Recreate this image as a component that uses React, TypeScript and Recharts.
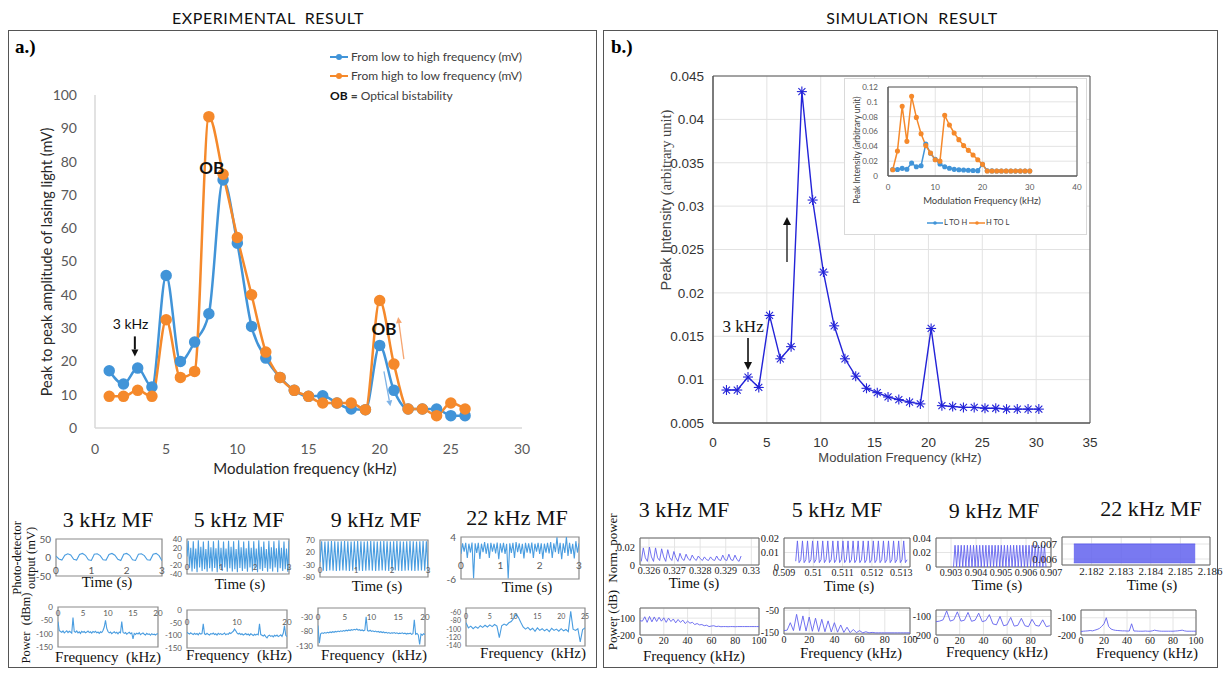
import React from 'react';
import {
  LineChart,
  Line,
  XAxis,
  YAxis,
  CartesianGrid,
  ReferenceDot,
  ReferenceArea,
  ComposedChart,
  Area,
} from 'recharts';

// ---- main experimental chart (a.) ----
const expFreq = [1, 2, 3, 4, 5, 6, 7, 8, 9, 10, 11, 12, 13, 14, 15, 16, 17, 18, 19, 20, 21, 22, 23, 24, 25, 26];
const expLowToHigh = [17.2, 13.2, 18, 12.3, 45.8, 20, 25.8, 34.3, 74.5, 55.5, 30.5, 21, 15.2, 11.3, 9.5, 9.7, 7.5, 5.7, 5.5, 24.8, 11.3, 5.7, 5.7, 5.7, 3.7, 3.7];
const expHighToLow = [9.5, 9.5, 11.3, 9.5, 32.5, 15.2, 17, 93.5, 76.2, 57.2, 40, 22.8, 15.2, 11.3, 9.5, 7.5, 7.5, 7.5, 5.5, 38.3, 19.2, 5.7, 5.7, 3.7, 7.5, 5.7];
const expXTicks = [0, 5, 10, 15, 20, 25, 30];
const expYTicks = [0, 10, 20, 30, 40, 50, 60, 70, 80, 90, 100];

// ---- main simulation chart (b.) ----
const simFreq = [1.25, 2.25, 3.25, 4.25, 5.25, 6.25, 7.25, 8.25, 9.25, 10.25, 11.25, 12.25, 13.25, 14.25, 15.25, 16.25, 17.25, 18.25, 19.25, 20.25, 21.25, 22.25, 23.25, 24.25, 25.25, 26.25, 27.25, 28.25, 29.25, 30.25];
const simIntensity = [0.0088, 0.0088, 0.0103, 0.0091, 0.0174, 0.0124, 0.0138, 0.0432, 0.0307, 0.0224, 0.0162, 0.0124, 0.0104, 0.009, 0.0085, 0.008, 0.0077, 0.0074, 0.0072, 0.0159, 0.007, 0.0069, 0.0068, 0.0068, 0.0067, 0.0067, 0.0066, 0.0066, 0.0066, 0.0066];
const simXTicks = [0, 5, 10, 15, 20, 25, 30, 35];
const simYTicks = [0.005, 0.01, 0.015, 0.02, 0.025, 0.03, 0.035, 0.04, 0.045];

// ---- inset ----
const insetFreq = [1, 2, 3, 4, 5, 6, 7, 8, 9, 10, 11, 12, 13, 14, 15, 16, 17, 18, 19, 20, 21, 22, 23, 24, 25, 26, 27, 28, 29, 30];
const insetLtoH = [0.0088, 0.0088, 0.0103, 0.0091, 0.0174, 0.0124, 0.0138, 0.0432, 0.0307, 0.0224, 0.0162, 0.0124, 0.0104, 0.009, 0.0085, 0.008, 0.0077, 0.0074, 0.0072, 0.0159, 0.007, 0.0069, 0.0068, 0.0068, 0.0067, 0.0067, 0.0066, 0.0066, 0.0066, 0.0066];
const insetHtoL = [0.0085, 0.0337, 0.094, 0.0467, 0.1074, 0.079, 0.057, 0.041, 0.031, 0.022, 0.02, 0.0818, 0.0688, 0.058, 0.049, 0.041, 0.0346, 0.0283, 0.022, 0.0157, 0.0068, 0.0068, 0.0068, 0.0068, 0.0068, 0.0068, 0.0068, 0.0068, 0.0068, 0.0068];
const insetXTicks = [0, 10, 20, 30, 40];
const insetYTicks = [0, 0.02, 0.04, 0.06, 0.08, 0.1, 0.12];

// ---- experimental small panels ----
const exp3kTime = [4, -4, -7, 6, 10, 7, -5, -7, 8, 11, 6, -6, -8, 9, 10, 5, -6, -7, 8, 11, 6, -5, -8, 9, 11, 6, -6, -8, 9, 10, 5, -6, -7, 9, 11, 5, -9];
const exp5kTime = [0, 36, -26, 20, -34, 35, -28, 18, -36, 37, -25, 22, -33, 34, -29, 17, -35, 36, -27, 21, -34, 35, -26, 19, -36, 37, -28, 20, -33, 34, -25, 18, -35, 36, -27, 22, -34, 35, -29, 17, -36, 37, -26, 21, -33, 34, -28, 19, -35, 36, -25, 20, -34, 35, -27, 18, -36, 37, -29, 22, -33, 34, -26, 17, -35, 36, -28, 21, -34, 35, -25, 19, -36, 37, -27, 20, -33, 34, -29, 18, -35, 36];
const exp9kTime = [-20, 65, -55, 64, -56, 65, -54, 66, -55, 65, -56, 64, -55, 65, -54, 66, -55, 65, -56, 64, -55, 65, -54, 66, -55, 65, -56, 64, -55, 65, -54, 66, -55, 65, -56, 64, -55, 65, -54, 66, -55, 65, -56, 64, -55, 65, -54, 66, -55, 65, -56, 64, -55, 65, -54, 66, -55, 65, -56, 64, -55, 65, -54, 66, -55, 65, -56];
const exp22kTime = [0, 2.5, 0.5, 2.6, -1, 2.4, 0.3, 2.7, -5.8, 2.5, 0.2, 2.6, -1.2, 2.4, 0.4, 2.8, 0, 2.5, -1, 2.6, 0.5, 2.4, 0.1, 2.7, -1.3, 2.5, 0.3, 2.6, 0, 2.4, -5.9, 2.5, 0.2, 2.6, -1, 2.8, 0.4, 2.5, 0, 2.4, -1.1, 2.6, 0.3, 2.5, 0.1, 2.7, -1, 2.4, 0.5, 2.6, 0, 2.5, -1.2, 2.4, 0.3, 2.6, 0.1, 2.8, -1, 2.5, 0.4, 3.9, 0, 2.6, -1.3, 2.5, 0.2, 4, -0.5, 2.6, 0, 2.4, -1.1, 3, 0.3, 2.5];
const exp3kSpec = [-55, -88, -92, -95, -90, -97, -93, -89, -96, -91, -94, -98, -40, -92, -95, -90, -97, -93, -99, -91, -95, -92, -97, -94, -90, -96, -93, -98, -92, -95, -91, -97, -94, -99, -93, -96, -88, -75, -50, -80, -92, -97, -94, -100, -96, -93, -98, -95, -101, -94, -97, -55, -95, -99, -96, -102, -98, -95, -100, -97, -120, -99, -103, -98, -101, -96, -104, -100, -97, -102, -105, -99, -103, -101, -106, -100, -104, -102, -105, -101, -100];
const exp5kSpec = [-88, -92, -95, -90, -94, -97, -92, -96, -93, -98, -91, -95, -93, -55, -94, -97, -92, -96, -99, -93, -95, -91, -97, -94, -99, -92, -96, -93, -97, -95, -91, -98, -94, -96, -90, -93, -88, -84, -75, -82, -90, -95, -92, -97, -94, -99, -96, -93, -98, -95, -100, -94, -97, -101, -96, -99, -95, -98, -55, -97, -100, -103, -98, -105, -110, -102, -99, -104, -101, -106, -100, -103, -99, -105, -102, -98, -104, -92, -62, -100, -105];
const exp9kSpec = [-60, -120, -88, -85, -87, -84, -86, -83, -85, -82, -84, -81, -83, -80, -82, -79, -81, -78, -80, -77, -79, -76, -78, -75, -77, -74, -76, -73, -75, -72, -76, -74, -77, -75, -78, -76, -30, -77, -79, -76, -80, -78, -81, -79, -82, -80, -83, -81, -84, -82, -85, -83, -86, -84, -87, -85, -86, -84, -87, -85, -88, -86, -87, -85, -88, -86, -89, -87, -88, -86, -90, -88, -40, -90, -87, -92, -125, -89, -93, -88, -91];
const exp22kSpec = [-85, -97, -93, -99, -94, -98, -92, -96, -91, -95, -90, -94, -89, -93, -120, -92, -88, -91, -85, -82, -75, -65, -72, -84, -95, -100, -96, -102, -98, -105, -97, -103, -99, -104, -100, -106, -98, -103, -100, -105, -99, -104, -101, -106, -58, -100, -103, -99, -130, -101, -97];

// ---- simulation small panels ----
const sim3kTime = [0.004, 0.019, 0.008, 0.004, 0.02, 0.009, 0.004, 0.019, 0.008, 0.005, 0.018, 0.009, 0.004, 0.017, 0.008, 0.005, 0.015, 0.008, 0.004, 0.013, 0.007, 0.005, 0.012, 0.007, 0.005, 0.011, 0.007, 0.005, 0.01, 0.007, 0.005, 0.009, 0.006, 0.005, 0.009, 0.006, 0.005, 0.01, 0.006, 0.005, 0.011, 0.006, 0.005, 0.012, 0.006, 0.005, 0.011, 0.006, 0.004, 0.01];
const sim5kTime = [0.004, 0.018, 0.003, 0.005, 0.018, 0.003, 0.005, 0.018, 0.003, 0.005, 0.018, 0.003, 0.005, 0.018, 0.003, 0.005, 0.018, 0.003, 0.005, 0.018, 0.003, 0.005, 0.018, 0.003, 0.005, 0.018, 0.003, 0.005, 0.018, 0.003, 0.005, 0.018, 0.003, 0.005, 0.018, 0.003, 0.005, 0.018, 0.003, 0.005, 0.018, 0.003, 0.005, 0.018, 0.003, 0.005, 0.018, 0.003, 0.005, 0.018, 0.003, 0.005, 0.018, 0.003, 0.005, 0.018, 0.003, 0.005, 0.018, 0.003, 0.005, 0.018, 0.003, 0.005, 0.018, 0.003, 0.005];
const sim9kTime = [0, 0.03, 0, 0.03, 0, 0.03, 0, 0.03, 0, 0.03, 0, 0.03, 0, 0.03, 0, 0.03, 0, 0.03, 0, 0.03, 0, 0.03, 0, 0.03, 0, 0.03, 0, 0.03, 0, 0.03, 0, 0.03, 0, 0.03, 0, 0.03, 0, 0.03, 0, 0.03, 0, 0.03, 0, 0.03, 0, 0.03, 0, 0.03, 0, 0.03, 0, 0.03, 0, 0.03, 0, 0.03, 0, 0.03, 0, 0.03, 0];
const sim22kBandT = [2.1814, 2.1855];
const sim22kBandLow = [0.00575, 0.00575];
const sim22kBandHigh = [0.007, 0.007];
const sim3kSpec = [-115, -118, -92, -125, -90, -122, -93, -120, -95, -118, -98, -125, -100, -120, -105, -128, -108, -125, -112, -132, -118, -130, -125, -138, -132, -140, -138, -145, -142, -150, -147, -145, -150, -148, -151, -150, -150, -151, -150, -150, -151, -150, -150, -150, -150, -150, -150, -150, -150, -150, -150];
const sim5kSpec = [-140, -138, -105, -140, -68, -140, -75, -142, -80, -143, -85, -144, -90, -145, -97, -146, -105, -147, -115, -148, -125, -149, -135, -149, -140, -150, -145, -150, -148, -150, -150, -150, -150, -150, -150, -150, -150, -150, -150, -150, -150];
const sim9kSpec = [-128, -125, -118, -70, -125, -118, -75, -125, -120, -78, -126, -120, -82, -128, -122, -90, -140, -145, -100, -150, -145, -105, -152, -148, -110, -150, -155, -115, -148, -152, -118, -155, -150];
const sim22kSpec = [-180, -178, -177, -176, -174, -176, -172, -168, -162, -150, -135, -100, -150, -165, -170, -173, -174, -175, -176, -176, -177, -177, -135, -177, -177, -178, -178, -178, -177, -178, -178, -176, -172, -175, -177, -178, -178, -178, -178, -178, -178, -177, -176, -174, -172, -176, -178, -178, -178, -178, -178];

const BLUE = '#4194d8';
const ORANGE = '#f5892b';
const SIMBLUE = '#2323d8';
const EXPTRACE = '#4a9de0';
const SIMTRACE = '#6262ee';
const SANS = 'Lato, "Noto Sans", sans-serif';
const ARIAL = '"Liberation Sans", Arial, sans-serif';
const SERIF = '"Liberation Serif", "Times New Roman", serif';

// sample times spread evenly over the recorded window
const sampled = (vals: number[], x0: number, x1: number) =>
  vals.map((y, i) => ({ x: x0 + (i * (x1 - x0)) / (vals.length - 1), y }));

const Txt = ({ x, y, size, font, children, weight, color, rot }: any) => (
  <div
    style={{
      position: 'absolute',
      left: x,
      top: y,
      transform: `translate(-50%, -50%) rotate(${rot || 0}deg)`,
      fontSize: size,
      fontFamily: font,
      fontWeight: weight || 'normal',
      color: color || '#111',
      whiteSpace: 'nowrap',
      lineHeight: 1.1,
      textAlign: 'center',
    }}
  >
    {children}
  </div>
);

// arrow whose tip sits on the reference point; tail offset in pixels
const arrowShape = (dx: number, dy: number, color: string, w: number, head: number) => (p: any) => {
  const { cx, cy } = p;
  if (cx == null || cy == null) return <g />;
  const len = Math.hypot(dx, dy);
  const ux = -dx / len;
  const uy = -dy / len;
  const bx = cx - ux * head;
  const by = cy - uy * head;
  const px = -uy * head * 0.5;
  const py = ux * head * 0.5;
  return (
    <g>
      <line x1={cx + dx} y1={cy + dy} x2={bx} y2={by} stroke={color} strokeWidth={w} />
      <polygon points={`${cx},${cy} ${bx + px},${by + py} ${bx - px},${by - py}`} fill={color} />
    </g>
  );
};

const textShape = (label: string, size: number, font: string, weight: string, fill = '#111') => (p: any) => (
  <text x={p.cx} y={p.cy} textAnchor="middle" dominantBaseline="central" fontSize={size} fontFamily={font} fontWeight={weight} fill={fill}>
    {label}
  </text>
);

const asterisk = (p: any) => {
  const { cx, cy } = p;
  if (cx == null || cy == null) return <g key={p.key} />;
  const r = 5;
  const d = r * 0.7;
  return (
    <g key={p.key} stroke={SIMBLUE} strokeWidth={1.1}>
      <line x1={cx - r} y1={cy} x2={cx + r} y2={cy} />
      <line x1={cx} y1={cy - r} x2={cx} y2={cy + r} />
      <line x1={cx - d} y1={cy - d} x2={cx + d} y2={cy + d} />
      <line x1={cx - d} y1={cy + d} x2={cx + d} y2={cy - d} />
    </g>
  );
};

function ExpMain() {
  const data = expFreq.map((f, i) => ({ f, lh: expLowToHigh[i], hl: expHighToLow[i] }));
  const tick = { fontSize: 14, fill: '#595959', fontFamily: SANS };
  return (
    <div style={{ position: 'absolute', left: 20, top: 80 }}>
      <LineChart width={520} height={410} data={data} margin={{ top: 15, right: 18, left: 0, bottom: 22 }}>
        <XAxis dataKey="f" type="number" domain={[0, 30]} ticks={expXTicks} interval={0} tick={tick} tickLine={false} axisLine={{ stroke: '#d9d9d9', strokeWidth: 1.5 }} tickMargin={10} height={40} />
        <YAxis type="number" domain={[0, 100]} ticks={expYTicks} interval={0} tick={tick} tickLine={false} axisLine={{ stroke: '#d9d9d9', strokeWidth: 1.5 }} width={75} tickMargin={12} />
        <Line type="monotone" dataKey="lh" stroke={BLUE} strokeWidth={2.5} dot={{ r: 4.5, fill: BLUE, stroke: BLUE }} isAnimationActive={false} />
        <Line type="monotone" dataKey="hl" stroke={ORANGE} strokeWidth={2.5} dot={{ r: 4.5, fill: ORANGE, stroke: ORANGE }} isAnimationActive={false} />
        <ReferenceDot x={2.5} y={31.5} r={0} shape={textShape('3 kHz', 14, SANS, 'normal')} />
        <ReferenceDot x={2.8} y={21.5} r={0} shape={arrowShape(0, -20, '#111', 2, 7)} />
        <ReferenceDot x={8.2} y={78.3} r={0} shape={textShape('OB', 17, SANS, 'bold')} />
        <ReferenceDot x={20.3} y={30} r={0} shape={textShape('OB', 17, SANS, 'bold')} />
        <ReferenceDot x={21.3} y={33.3} r={0} shape={arrowShape(5.7, 42, '#f6a570', 1.3, 6)} />
        <ReferenceDot x={20.75} y={6.5} r={0} shape={arrowShape(-6.4, -35, '#7fb3e6', 1.3, 6)} />
      </LineChart>
    </div>
  );
}

function SimMain() {
  const data = simFreq.map((f, i) => ({ f, v: simIntensity[i] }));
  const tick = { fontSize: 13.5, fill: '#333', fontFamily: ARIAL };
  return (
    <div style={{ position: 'absolute', left: 650, top: 60 }}>
      <LineChart width={450} height={420} data={data} margin={{ top: 16, right: 10, left: 0, bottom: 27 }}>
        <CartesianGrid stroke="#e2e2e2" />
        <XAxis dataKey="f" type="number" domain={[0, 35]} ticks={simXTicks} interval={0} tick={tick} tickLine={false} axisLine={{ stroke: '#555' }} tickMargin={8} height={30} />
        <YAxis type="number" domain={[0.005, 0.045]} ticks={simYTicks} interval={0} tick={tick} tickLine={false} axisLine={{ stroke: '#555' }} width={63} tickMargin={3} />
        <ReferenceArea x1={0} x2={35} y1={0.005} y2={0.045} fill="none" stroke="#555" strokeWidth={1} />
        <Line type="linear" dataKey="v" stroke={SIMBLUE} strokeWidth={1.4} dot={asterisk} isAnimationActive={false} />
        <ReferenceDot x={2.8} y={0.0161} r={0} shape={textShape('3 kHz', 17, SERIF, 'normal')} />
        <ReferenceDot x={3.25} y={0.0111} r={0} shape={arrowShape(0, -32, '#111', 1.6, 8)} />
        <ReferenceDot x={6.87} y={0.02875} r={0} shape={arrowShape(0, 45, '#111', 1.3, 8)} />
      </LineChart>
    </div>
  );
}

function Inset() {
  const data = insetFreq.map((f, i) => ({ f, a: insetLtoH[i], b: insetHtoL[i] }));
  const tick = { fontSize: 8, fill: '#595959', fontFamily: SANS };
  return (
    <>
      <div style={{ position: 'absolute', left: 844, top: 78, width: 243, height: 157, background: '#fff', border: '1px solid #d9d9d9', boxSizing: 'border-box' }} />
      <div style={{ position: 'absolute', left: 846, top: 80 }}>
        <LineChart width={240} height={130} data={data} margin={{ top: 7, right: 9, left: 0, bottom: 20 }}>
          <CartesianGrid stroke="#e3e3e3" />
          <XAxis dataKey="f" type="number" domain={[0, 40]} ticks={insetXTicks} interval={0} tick={tick} tickLine={false} axisLine={{ stroke: '#595959' }} tickMargin={2} height={14} />
          <YAxis type="number" domain={[0, 0.12]} ticks={insetYTicks} interval={0} tick={tick} tickLine={false} axisLine={{ stroke: '#595959' }} width={42} tickMargin={4} />
          <ReferenceArea x1={0} x2={40} y1={0} y2={0.12} fill="none" stroke="#595959" />
          <Line type="linear" dataKey="a" stroke={BLUE} strokeWidth={1.5} dot={{ r: 1.8, fill: BLUE, stroke: BLUE }} isAnimationActive={false} />
          <Line type="linear" dataKey="b" stroke={ORANGE} strokeWidth={1.5} dot={{ r: 1.8, fill: ORANGE, stroke: ORANGE }} isAnimationActive={false} />
        </LineChart>
      </div>
      <Txt x={858} y={150} size={8.5} font={SANS} color="#404040" rot={-90}>Peak Intensity (arbitrary unit)</Txt>
      <Txt x={982} y={201} size={9.5} font={SANS} color="#404040">Modulation Frequency (kHz)</Txt>
      <svg style={{ position: 'absolute', left: 925, top: 218 }} width={70} height={10}>
        <line x1={2} y1={5} x2={18} y2={5} stroke={BLUE} strokeWidth={1.5} />
        <circle cx={10} cy={5} r={1.8} fill={BLUE} />
        <line x1={44} y1={5} x2={60} y2={5} stroke={ORANGE} strokeWidth={1.5} />
        <circle cx={52} cy={5} r={1.8} fill={ORANGE} />
      </svg>
      <div style={{ position: 'absolute', left: 944, top: 218, fontSize: 7.5, fontFamily: SANS, color: '#404040', lineHeight: '10px' }}>L TO H</div>
      <div style={{ position: 'absolute', left: 986, top: 218, fontSize: 7.5, fontFamily: SANS, color: '#404040', lineHeight: '10px' }}>H TO L</div>
    </>
  );
}

type MiniProps = {
  l: number;
  t: number;
  w: number;
  h: number;
  data?: { x: number; y: number }[];
  band?: { x: number; r: number[] }[];
  xd: number[];
  yd: number[];
  xt: number[];
  yt: number[];
  kind: 'excel' | 'matlab';
  labelY?: number;
  yw: number;
  fs: number;
  xfs?: number;
};

function Mini({ l, t, w, h, data, band, xd, yd, xt, yt, kind, labelY, yw, fs, xfs }: MiniProps) {
  const excel = kind === 'excel';
  const color = excel ? EXPTRACE : SIMTRACE;
  const xh = excel ? 0 : 13;
  const mr = excel ? 6 : 16;
  const mt = 7;
  const mb = excel ? 7 : 2;
  const font = excel ? SANS : SERIF;
  const fill = excel ? '#595959' : '#222';
  const yTick = { fontSize: fs, fill, fontFamily: font };
  const xTick = { fontSize: xfs || fs, fill, fontFamily: font };
  return (
    <div style={{ position: 'absolute', left: l - yw, top: t - mt }}>
      <ComposedChart width={w + yw + mr} height={h + mt + mb + xh} data={data || band} margin={{ top: mt, right: mr, left: 0, bottom: mb }}>
        {!excel && <CartesianGrid stroke="#e4e4e4" />}
        <XAxis
          dataKey="x"
          type="number"
          domain={xd}
          ticks={xt}
          interval={0}
          tick={xTick}
          tickLine={false}
          axisLine={false}
          hide={excel}
          height={xh}
          tickSize={1}
          tickMargin={1}
          allowDataOverflow
        />
        <YAxis type="number" domain={yd} ticks={yt} interval={0} tick={yTick} tickLine={false} axisLine={false} width={yw} tickSize={2} tickMargin={3} allowDataOverflow />
        {band ? (
          <Area dataKey="r" type="linear" stroke={color} fill={color} fillOpacity={0.85} strokeWidth={1} isAnimationActive={false} />
        ) : (
          <Line dataKey="y" type="linear" stroke={color} strokeWidth={excel ? 1.1 : 0.9} dot={false} isAnimationActive={false} />
        )}
        <ReferenceArea x1={xd[0]} x2={xd[1]} y1={yd[0]} y2={yd[1]} fill="none" stroke={excel ? '#8a8a8a' : '#666'} strokeWidth={excel ? 1.2 : 1} />
        {excel && labelY !== undefined &&
          xt.map((v) => (
            <ReferenceDot key={v} x={v} y={labelY} r={0} shape={textShape(String(v), xfs || fs, SANS, 'normal', '#595959')} />
          ))}
      </ComposedChart>
    </div>
  );
}

export default function App() {
  const band22 = sim22kBandT.map((x, i) => ({ x, r: [sim22kBandLow[i], sim22kBandHigh[i]] }));
  return (
    <div style={{ position: 'absolute', left: 0, top: 0, width: 1224, height: 675, background: '#fff', overflow: 'hidden' }}>
      <Txt x={268} y={18} size={16} font={SANS} color="#111"><span style={{ letterSpacing: 0.6 }}>EXPERIMENTAL&nbsp; RESULT</span></Txt>
      <Txt x={912} y={18} size={16} font={SANS} color="#111"><span style={{ letterSpacing: 0.6 }}>SIMULATION&nbsp; RESULT</span></Txt>
      <div style={{ position: 'absolute', left: 8, top: 30, width: 589, height: 638, border: '1.5px solid #555', boxSizing: 'border-box' }} />
      <div style={{ position: 'absolute', left: 603, top: 30, width: 615, height: 638, border: '1.5px solid #555', boxSizing: 'border-box' }} />
      <div style={{ position: 'absolute', left: 15, top: 36, fontSize: 19, fontWeight: 'bold', fontFamily: SERIF }}>a.)</div>
      <div style={{ position: 'absolute', left: 611, top: 36, fontSize: 19, fontWeight: 'bold', fontFamily: SERIF }}>b.)</div>

      <ExpMain />
      <Txt x={47} y={262} size={14.5} font={SANS} color="#262626" rot={-90}>Peak to peak amplitude of lasing light (mV)</Txt>
      <Txt x={305} y={468} size={15} font={SANS} color="#262626">Modulation frequency (kHz)</Txt>

      <svg style={{ position: 'absolute', left: 326, top: 50 }} width={26} height={34}>
        <line x1={4} y1={7} x2={22} y2={7} stroke={BLUE} strokeWidth={2} />
        <circle cx={13} cy={7} r={3} fill={BLUE} />
        <line x1={4} y1={26} x2={22} y2={26} stroke={ORANGE} strokeWidth={2} />
        <circle cx={13} cy={26} r={3} fill={ORANGE} />
      </svg>
      <div style={{ position: 'absolute', left: 351, top: 50, fontSize: 12, fontFamily: SANS, color: '#404040', lineHeight: '14px' }}>From low to high frequency (mV)</div>
      <div style={{ position: 'absolute', left: 351, top: 69, fontSize: 12, fontFamily: SANS, color: '#404040', lineHeight: '14px' }}>From high to low frequency (mV)</div>
      <div style={{ position: 'absolute', left: 330, top: 89, fontSize: 12, fontFamily: SANS, color: '#404040', lineHeight: '14px' }}><b style={{ color: '#111' }}>OB</b> <b>=</b> Optical bistability</div>

      <SimMain />
      <Inset />
      <Txt x={667} y={200} size={14.5} font={ARIAL} color="#444" rot={-90}>Peak Intensity <span style={{ fontFamily: SERIF }}>(arbitrary unit)</span></Txt>
      <Txt x={900} y={458} size={13} font={ARIAL} color="#444">Modulation Frequency (kHz)</Txt>

      {/* experimental small panels */}
      <Txt x={108} y={520} size={22} font={SERIF}>3 kHz MF</Txt>
      <Txt x={239} y={520} size={22} font={SERIF}>5 kHz MF</Txt>
      <Txt x={376} y={520} size={22} font={SERIF}>9 kHz MF</Txt>
      <Txt x={517} y={518} size={22} font={SERIF}>22 kHz MF</Txt>
      <Txt x={25} y={558} size={12.5} font={SERIF} rot={-90}>Photo-detector<br />output (mV)</Txt>
      <Txt x={27} y={628} size={12.5} font={SERIF} rot={-90}>Power&nbsp; (dBm)</Txt>

      <Mini l={56} t={539} w={106} h={37} data={sampled(exp3kTime, 0, 3)} xd={[0, 3]} yd={[-50, 50]} xt={[0, 1, 2, 3]} yt={[-50, 0, 50]} kind="excel" labelY={-34} yw={22} fs={10} />
      <Mini l={187} t={539} w={102} h={35} data={sampled(exp5kTime, 0, 3)} xd={[0, 3]} yd={[-40, 40]} xt={[0, 1, 2, 3]} yt={[-40, -20, 0, 20, 40]} kind="excel" labelY={-24} yw={22} fs={8} />
      <Mini l={320} t={540} w={108} h={37} data={sampled(exp9kTime, 0, 3)} xd={[0, 3]} yd={[-80, 70]} xt={[0, 1, 2, 3]} yt={[-80, -30, 20, 70]} kind="excel" labelY={-52} yw={22} fs={8} />
      <Mini l={461} t={537} w={118} h={42} data={sampled(exp22kTime, 0, 3)} xd={[0, 3]} yd={[-6, 4]} xt={[0, 1, 2, 3]} yt={[-6, 4]} kind="excel" labelY={-2.7} yw={18} fs={10} />
      <Txt x={107} y={582} size={15} font={SERIF}>Time (s)</Txt>
      <Txt x={240} y={584} size={15} font={SERIF}>Time (s)</Txt>
      <Txt x={377} y={586} size={15} font={SERIF}>Time (s)</Txt>
      <Txt x={527} y={587} size={15} font={SERIF}>Time (s)</Txt>

      <Mini l={58} t={607} w={100} h={40} data={sampled(exp3kSpec, 0, 20)} xd={[0, 20]} yd={[-150, 0]} xt={[0, 5, 10, 15, 20]} yt={[-150, -100, -50, 0]} kind="excel" labelY={-22} yw={22} fs={8} />
      <Mini l={187} t={610} w={100} h={38} data={sampled(exp5kSpec, 0, 20)} xd={[0, 20]} yd={[-150, 0]} xt={[0, 10, 20]} yt={[-150, -100, -50, 0]} kind="excel" labelY={-47} yw={22} fs={8} />
      <Mini l={318} t={608} w={107} h={38} data={sampled(exp9kSpec, 0, 20)} xd={[0, 20]} yd={[-130, 0]} xt={[0, 5, 10, 15, 20]} yt={[-130, -80, -30]} kind="excel" labelY={-31} yw={22} fs={8} />
      <Mini l={466} t={608} w={119} h={38} data={sampled(exp22kSpec, 0, 25)} xd={[0, 25]} yd={[-140, -50]} xt={[0, 5, 10, 15, 20, 25]} yt={[-140, -120, -100, -80, -60]} kind="excel" labelY={-69} yw={22} fs={7} />
      <Txt x={108} y={657} size={15} font={SERIF}>Frequency&nbsp; (kHz)</Txt>
      <Txt x={239} y={655} size={15} font={SERIF}>Frequency&nbsp; (kHz)</Txt>
      <Txt x={374} y={655} size={15} font={SERIF}>Frequency&nbsp; (kHz)</Txt>
      <Txt x={533} y={653} size={15} font={SERIF}>Frequency&nbsp; (kHz)</Txt>

      {/* simulation small panels */}
      <Txt x={684} y={510} size={22} font={SERIF}>3 kHz MF</Txt>
      <Txt x={837} y={510} size={22} font={SERIF}>5 kHz MF</Txt>
      <Txt x={994} y={511} size={22} font={SERIF}>9 kHz MF</Txt>
      <Txt x={1151} y={509} size={22} font={SERIF}>22 kHz MF</Txt>
      <Txt x={613} y={548} size={13} font={SERIF} rot={-90}>Norm. power</Txt>
      <Txt x={613} y={620} size={13} font={SERIF} rot={-90}>Power (dB)</Txt>

      <Mini l={640} t={538} w={119} h={27} data={sampled(sim3kTime, 0.3257, 0.3296)} xd={[0.32565, 0.3303]} yd={[0, 0.03]} xt={[0.326, 0.327, 0.328, 0.329, 0.33]} yt={[0, 0.02]} kind="matlab" yw={30} fs={10.5} xfs={10} />
      <Mini l={784} t={538} w={126} h={29} data={sampled(sim5kTime, 0.5094, 0.5132)} xd={[0.509, 0.5133]} yd={[0, 0.02]} xt={[0.509, 0.51, 0.511, 0.512, 0.513]} yt={[0, 0.01, 0.02]} kind="matlab" yw={30} fs={10.5} xfs={10} />
      <Mini l={936} t={538} w={115} h={29} data={sampled(sim9kTime, 0.9031, 0.9068)} xd={[0.9024, 0.907]} yd={[0, 0.04]} xt={[0.903, 0.904, 0.905, 0.906, 0.907]} yt={[0, 0.02, 0.04]} kind="matlab" yw={30} fs={10.5} xfs={10} />
      <Mini l={1062} t={537} w={148} h={28} band={band22} xd={[2.181, 2.186]} yd={[0.0056, 0.00747]} xt={[2.182, 2.183, 2.184, 2.185, 2.186]} yt={[0.006, 0.007]} kind="matlab" yw={40} fs={11} xfs={11} />
      <Txt x={694} y={583} size={15} font={SERIF}>Time (s)</Txt>
      <Txt x={849} y={586} size={15} font={SERIF}>Time (s)</Txt>
      <Txt x={997} y={585} size={15} font={SERIF}>Time (s)</Txt>
      <Txt x={1152} y={585} size={15} font={SERIF}>Time (s)</Txt>

      <Mini l={640} t={608} w={119} h={27} data={sampled(sim3kSpec, 0, 100)} xd={[0, 100]} yd={[-200, -40]} xt={[0, 20, 40, 60, 80, 100]} yt={[-200, -100]} kind="matlab" yw={28} fs={10} />
      <Mini l={784} t={608} w={126} h={26} data={sampled(sim5kSpec, 0, 100)} xd={[0, 100]} yd={[-155, -40]} xt={[0, 20, 40, 60, 80, 100]} yt={[-150, -50]} kind="matlab" yw={28} fs={10} />
      <Mini l={936} t={610} w={115} h={25} data={sampled(sim9kSpec, 0, 96)} xd={[0, 97]} yd={[-200, -65]} xt={[0, 20, 40, 60, 80]} yt={[-200, -100]} kind="matlab" yw={28} fs={10} />
      <Mini l={1081} t={610} w={115} h={25} data={sampled(sim22kSpec, 0, 100)} xd={[0, 100]} yd={[-200, -55]} xt={[0, 20, 40, 60, 80, 100]} yt={[-200, -100]} kind="matlab" yw={28} fs={10} />
      <Txt x={694} y={656} size={15} font={SERIF}>Frequency (kHz)</Txt>
      <Txt x={851} y={653} size={15} font={SERIF}>Frequency (kHz)</Txt>
      <Txt x={997} y={652} size={15} font={SERIF}>Frequency (kHz)</Txt>
      <Txt x={1147} y={653} size={15} font={SERIF}>Frequency (kHz)</Txt>
    </div>
  );
}
